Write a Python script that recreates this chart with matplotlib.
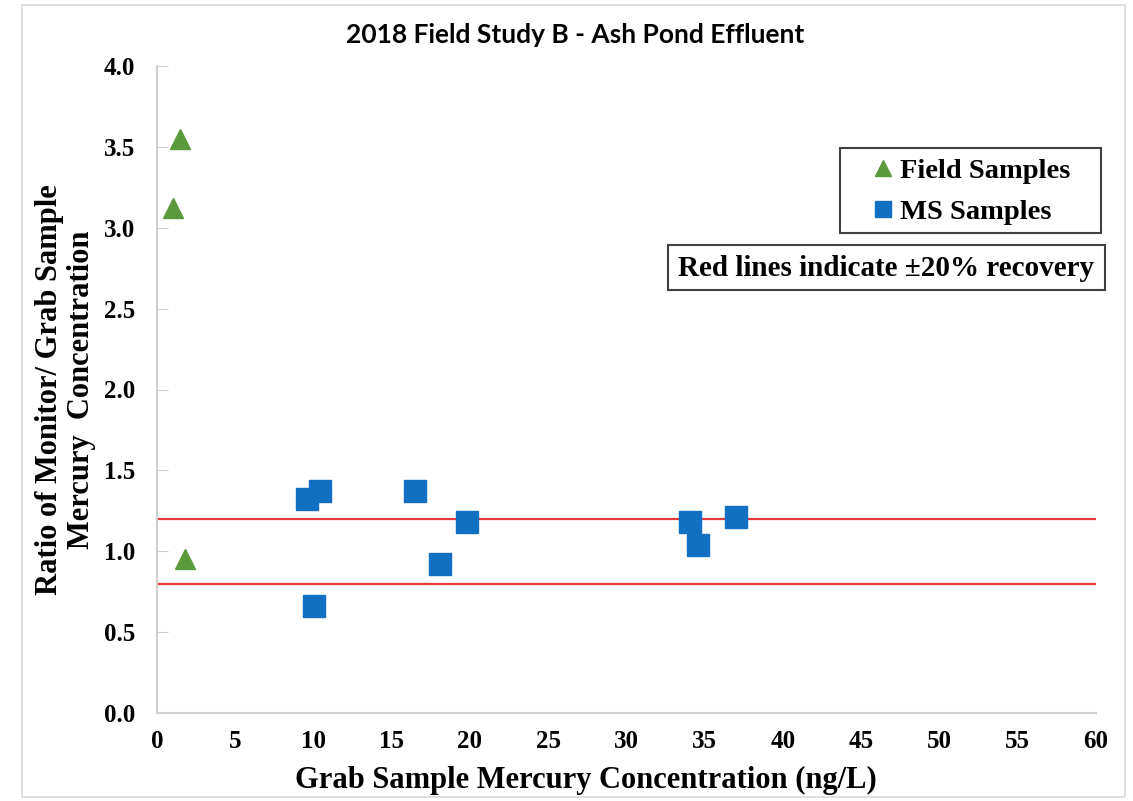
import matplotlib
matplotlib.use("Agg")
import matplotlib.pyplot as plt
from matplotlib.patches import Rectangle

field_x = [1.45, 1.05, 1.8]
field_y = [3.55, 3.12, 0.95]
ms_x = [9.6, 10.4, 10.0, 16.5, 18.1, 19.8, 34.05, 34.6, 37.0]
ms_y = [1.32, 1.37, 0.66, 1.37, 0.92, 1.18, 1.18, 1.04, 1.21]
upper_limit = 1.2
lower_limit = 0.8
x_ticks = list(range(0, 61, 5))
y_ticks = [0.0, 0.5, 1.0, 1.5, 2.0, 2.5, 3.0, 3.5, 4.0]

serif = ["Liberation Serif", "DejaVu Serif"]
W, H = 1133, 801

fig = plt.figure(figsize=(W / 100, H / 100), dpi=100)
fig.patches.append(Rectangle((22 / W, 1 - 797 / H), (1125 - 22) / W, (797 - 5) / H,
                             transform=fig.transFigure, fill=False,
                             edgecolor="#d9d9d9", linewidth=1.2))
ax = fig.add_axes([157 / W, 1 - 713 / H, (1096 - 157) / W, (713 - 66) / H])

ax.axhline(upper_limit, color="#e8393a", linewidth=1.6, zorder=1)
ax.axhline(lower_limit, color="#e8393a", linewidth=1.6, zorder=1)

ax.plot(field_x, field_y, linestyle="none", marker="^", markersize=15,
        color="#5b9a3c", label="Field Samples", zorder=3)
ax.plot(ms_x, ms_y, linestyle="none", marker="s", markersize=16,
        color="#1170c2", label="MS Samples", zorder=3)

ax.set_xlim(0, 60)
ax.set_ylim(0, 4.0)
ax.set_xticks(x_ticks)
ax.set_yticks(y_ticks)
ax.set_xticklabels([str(v) for v in x_ticks], family=serif, fontweight="bold", fontsize=18)
ax.set_yticklabels([f"{v:.1f}" for v in y_ticks], family=serif, fontweight="bold", fontsize=18)
ax.tick_params(axis="x", length=0, pad=12)
ax.tick_params(axis="y", direction="in", length=8, color="#d0d0d0", pad=16)

for s in ["top", "right"]:
    ax.spines[s].set_visible(False)
for s in ["left", "bottom"]:
    ax.spines[s].set_color("#d0d0d0")
    ax.spines[s].set_linewidth(1.5)

fig.text(586 / W, 1 - 780 / H, "Grab Sample Mercury Concentration (ng/L)",
         ha="center", va="center", family=serif, fontweight="bold", fontsize=22)
fig.text(65.5 / W, 1 - 390 / H, "Ratio of Monitor/ Grab Sample\nMercury  Concentration",
         ha="center", va="center", rotation=90, multialignment="center",
         family=serif, fontweight="bold", fontsize=22, linespacing=1.15)

fig.text(575 / W, 1 - 35 / H, "2018 Field Study B - Ash Pond Effluent", ha="center",
         va="center", family=["Lato", "DejaVu Sans"], fontweight="bold", fontsize=19)

# legend box
leg_top, leg_bot = 148, 233
ax.add_patch(Rectangle((840 / W, 1 - leg_bot / H), (1101 - 840) / W,
                       (leg_bot - leg_top) / H, transform=fig.transFigure, clip_on=False,
                       facecolor="white", edgecolor="#404040", linewidth=1.5, zorder=5))
leg = ax.legend(loc="center left", bbox_to_anchor=(872 / W, 1 - (leg_top + leg_bot + 2) / 2 / H),
                bbox_transform=fig.transFigure, borderaxespad=0, frameon=False,
                prop={"family": serif, "weight": "bold", "size": 20.5},
                markerscale=0.75, handlelength=0.8, handletextpad=0.2,
                borderpad=0.0, labelspacing=0.52)
leg.set_zorder(6)

ax.add_patch(Rectangle((668 / W, 1 - 290 / H), (1105 - 668) / W, 45 / H,
                       transform=fig.transFigure, clip_on=False, facecolor="white",
                       edgecolor="#404040", linewidth=1.5, zorder=5))
ax.text((668 + 1105) / 2 / W, 1 - 268 / H, "Red lines indicate \u00b120% recovery",
        transform=fig.transFigure, ha="center", va="center", family=serif,
        fontweight="bold", fontsize=21, zorder=6)

fig.savefig("out.png", dpi=100)
